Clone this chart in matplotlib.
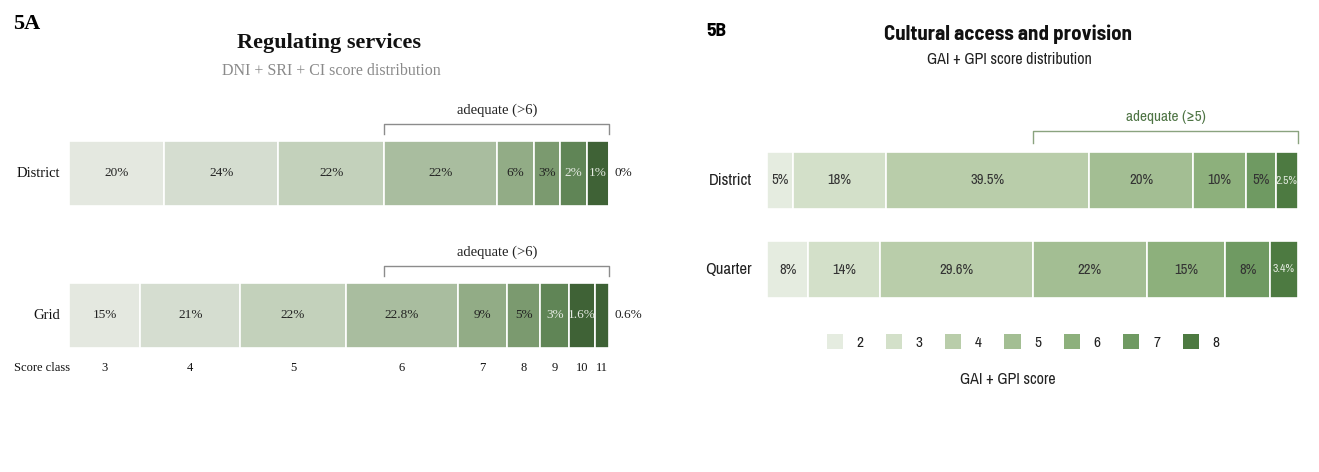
import numpy as np
import matplotlib.pyplot as plt
from matplotlib.patches import Patch

W, H = 1319, 472
SERIF = ["Liberation Serif", "DejaVu Serif"]
NARROW = ["Archivo Narrow", "Barlow Semi Condensed", "DejaVu Sans"]
NARROW_BOLD = ["Barlow Semi Condensed", "Archivo Narrow", "DejaVu Sans"]

# --- 5A: regulating services (DNI + SRI + CI) ---
reg_classes = [3, 4, 5, 6, 7, 8, 9, 10, 11]
reg_district = [20, 24, 22, 22, 6, 3, 2, 1, 0]
reg_grid = [15, 21, 22, 22.8, 9, 5, 3, 1.6, 0.6]
reg_colors = ["#e4e8e0", "#d5ddd0", "#c3d1bb", "#a9bd9f", "#92ac86",
              "#7b9a6f", "#608556", "#3f6236", "#3d6135"]
reg_adequate_from = 6

# --- 5B: cultural access and provision (GAI + GPI) ---
cult_scores = [2, 3, 4, 5, 6, 7, 8]
cult_district = [5, 18, 39.5, 20, 10, 5, 2.5]
cult_quarter = [8, 14, 29.6, 22, 15, 8, 3.4]
cult_colors = ["#e5ece0", "#d3e0c9", "#b9cdaa", "#a3be93", "#8db07c",
               "#6f9a62", "#4d7a41"]
cult_adequate_from = 5


def make_stretch(k, s):
    # widen the thin top classes at the right end so their labels stay legible
    def fwd(c):
        c = np.minimum(np.asarray(c, dtype=float), 100 + s / 2)
        return c + k * s * (1 / (s + 100 - c) - 1 / (s + 100))
    grid = np.linspace(0, 100 + s / 2, 4001)

    def inv(v):
        return np.interp(v, fwd(grid), grid)
    return fwd, inv


def ftext(x, y, s, **kw):
    fig.text(x / W, 1 - y / H, s, **kw)


def pct(v):
    return f"{v:g}%"


def panel_axes(x0, x1, stretch):
    ax = fig.add_axes([x0 / W, 0, (x1 - x0) / W, 1])
    fwd, inv = stretch
    ax.set_xscale("function", functions=(fwd, inv))
    ax.set_xlim(0, 100)
    ax.set_ylim(H, 0)
    ax.axis("off")
    return ax, fwd, inv


def draw_row(ax, fwd, inv, yc, h, values, colors):
    lefts = np.concatenate([[0], np.cumsum(values)[:-1]])
    ax.barh(yc, values, left=lefts, height=h, color=colors,
            edgecolor="white", linewidth=1.2)
    mids = inv((fwd(lefts) + fwd(lefts + np.array(values))) / 2)
    return lefts, mids


def bracket(ax, x0, x1, y, drop, color):
    ax.plot([x0, x0, x1, x1], [y + drop, y, y, y + drop], color=color,
            lw=1, clip_on=False)


fig = plt.figure(figsize=(W / 100, H / 100), dpi=100)

# ================= 5A =================
axL, fL, iL = panel_axes(69, 609, make_stretch(14.7, 3))

ftext(13, 24, "5A", family=SERIF, fontsize=16, fontweight="bold",
      ha="left", va="center")
ftext(329, 43, "Regulating services", family=SERIF, fontsize=16,
      fontweight="bold", ha="center", va="center", color="#111111")
ftext(331, 71, "DNI + SRI + CI score distribution", family=SERIF,
      fontsize=11.5, ha="center", va="center", color="#8a8a8a")

rows_L = [("District", reg_district, 173.5), ("Grid", reg_grid, 315.5)]
for name, vals, yc in rows_L:
    lefts, mids = draw_row(axL, fL, iL, yc, 65, vals, reg_colors)
    ftext(60, yc, name, family=SERIF, fontsize=10.5, ha="right",
          va="center", color="#111111")
    for cls, v, m in zip(reg_classes, vals, mids):
        if v < 1:
            axL.annotate(pct(v), xy=(100, yc), xytext=(4, 0),
                         textcoords="offset points", ha="left",
                         va="center", family=SERIF, fontsize=9.5,
                         color="#222222", annotation_clip=False)
        else:
            tc = "#e6ebe3" if cls in (9, 10) else "#222222"
            axL.text(m, yc, pct(v), ha="center", va="center",
                     family=SERIF, fontsize=9.5, color=tc)
    if name == "Grid":
        # score class row under the grid bar
        ftext(14, 368, "Score class", family=SERIF, fontsize=9,
              ha="left", va="center", color="#111111")
        for cls, m in zip(reg_classes, mids):
            axL.text(m, 368, str(cls), ha="center", va="center",
                     family=SERIF, fontsize=9, color="#111111")

# bracket over the adequate classes, starting at the district class-6 edge
adq_L = float(np.sum(reg_district[:reg_classes.index(reg_adequate_from)]))
for ytop in (124, 266):
    bracket(axL, adq_L, 100, ytop, 10, "#8c8c8c")
    axL.text(iL((fL(adq_L) + fL(100)) / 2), ytop - 14,
             f"adequate (>{reg_adequate_from})", ha="center", va="center",
             family=SERIF, fontsize=10.5, color="#222222")

# ================= 5B =================
axR, fR, iR = panel_axes(767, 1298, make_stretch(3.2, 2))

ftext(706, 32, "5B", family=NARROW_BOLD, fontsize=14, fontweight="bold",
      ha="left", va="center")
ftext(1008, 34, "Cultural access and provision", family=NARROW_BOLD,
      fontsize=15, fontweight="bold", ha="center", va="center",
      color="#111111")
ftext(1009, 60, "GAI + GPI score distribution", family=NARROW,
      fontsize=11.5, ha="center", va="center", color="#222222")

rows_R = [("District", cult_district, 180.5), ("Quarter", cult_quarter, 269.5)]
for name, vals, yc in rows_R:
    lefts, mids = draw_row(axR, fR, iR, yc, 57, vals, cult_colors)
    ftext(752, yc, name, family=NARROW, fontsize=12, ha="right",
          va="center", color="#222222")
    for sc, v, m in zip(cult_scores, vals, mids):
        if sc == 8:
            axR.text(m, yc, pct(v), ha="center", va="center",
                     family=NARROW, fontsize=8.5, color="#e3eadf")
        else:
            axR.text(m, yc, pct(v), ha="center", va="center",
                     family=NARROW, fontsize=10.5, color="#333333")

adq_R = float(np.sum(cult_quarter[:cult_scores.index(cult_adequate_from)]))
bracket(axR, adq_R, 100, 131, 12, "#8aa37f")
axR.text(iR((fR(adq_R) + fR(100)) / 2), 117,
         f"adequate (\u2265{cult_adequate_from})", ha="center", va="center",
         family=NARROW, fontsize=11, color="#4e7444")

handles = [Patch(facecolor=c, edgecolor="none", label=str(s))
           for s, c in zip(cult_scores, cult_colors)]
fig.legend(handles=handles, ncol=len(handles), loc="center",
           bbox_to_anchor=(1023 / W, 1 - 342 / H), frameon=False,
           prop={"family": NARROW, "size": 11}, handlelength=1.05,
           handleheight=1.1, handletextpad=0.9, columnspacing=1.48,
           labelcolor="#222222")
ftext(1008, 379, "GAI + GPI score", family=NARROW, fontsize=11.5,
      ha="center", va="center", color="#222222")

fig.savefig("out.png", dpi=100, facecolor="white")
